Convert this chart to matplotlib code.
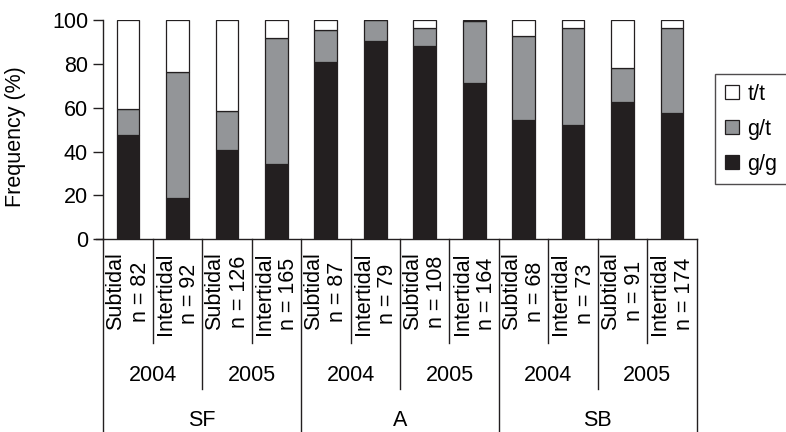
import matplotlib.pyplot as plt
import numpy as np
from matplotlib.patches import Patch

plt.rcParams["font.family"] = ["Liberation Sans", "DejaVu Sans"]
plt.rcParams["font.size"] = 15.5

sites = ["SF", "A", "SB"]
years = ["2004", "2005"]
zones = ["Subtidal", "Intertidal"]
n_samples = [82, 92, 126, 165, 87, 79, 108, 164, 68, 73, 91, 174]

# genotype frequencies (%) per sample, bottom to top
gg = [47.6, 19.0, 40.8, 34.2, 81.0, 90.5, 88.3, 71.1, 54.3, 52.1, 62.7, 57.4]
gt = [11.9, 57.1, 17.8, 57.7, 14.4, 9.5, 8.2, 28.3, 38.4, 44.2, 15.4, 39.1]
tt = [40.5, 23.9, 41.4, 8.1, 4.6, 0.0, 3.5, 0.6, 7.3, 3.7, 21.9, 3.5]

dark = "#231f20"
grey = "#939598"

fig = plt.figure(figsize=(7.86, 4.32), dpi=100)
ax = fig.add_axes([0.1314, 0.446, 0.755, 0.5076])

x = np.arange(len(n_samples)) + 0.5
gg = np.array(gg)
gt = np.array(gt)
tt = np.array(tt)
w = 0.46
ax.bar(x, gg, w, color=dark, edgecolor=dark, linewidth=0.9, label="g/g")
ax.bar(x, gt, w, bottom=gg, color=grey, edgecolor=dark, linewidth=0.9, label="g/t")
ax.bar(x, tt, w, bottom=gg + gt, color="white", edgecolor=dark, linewidth=0.9, label="t/t")

ax.set_xlim(0, len(n_samples))
ax.set_ylim(0, 100)
ax.set_yticks(np.arange(0, 101, 20))
ax.set_xticks([])
ax.tick_params(axis="y", direction="out", length=7, width=1, color=dark, pad=4)
for s in ["top", "right"]:
    ax.spines[s].set_visible(False)
for s in ["left", "bottom"]:
    ax.spines[s].set_color(dark)
    ax.spines[s].set_linewidth(1)
# extend the baseline a little to the left like a tick at zero
ax.plot([-0.15, 0], [0, 0], color=dark, lw=1, clip_on=False,
        transform=ax.get_xaxis_transform())

ax.set_ylabel("Frequency (%)")
ax.yaxis.set_label_coords(-0.130, 0.47)

# grouping table under the bars
tr = ax.get_xaxis_transform()
y_zone = -0.473
y_year = -0.682
y_site = -0.88
line_kw = dict(color=dark, lw=1, clip_on=False, transform=tr)
for k in range(len(n_samples) + 1):
    if k % 4 == 0:
        bottom = y_site
    elif k % 2 == 0:
        bottom = y_year
    else:
        bottom = y_zone
    ax.plot([k, k], [0, bottom], **line_kw)

for k, n in enumerate(n_samples):
    ax.text(x[k], -0.06, f"{zones[k % 2]}\nn = {n}", rotation=90,
            ha="center", va="top", multialignment="center",
            linespacing=1.2, transform=tr)

for k in range(len(sites) * len(years)):
    ax.text(2 * k + 1, -0.619, years[k % 2], ha="center", va="center",
            transform=tr)

for k, site in enumerate(sites):
    ax.text(4 * k + 2, -0.824, site, ha="center", va="center", transform=tr)

handles = [
    Patch(facecolor="white", edgecolor=dark, lw=0.9),
    Patch(facecolor=grey, edgecolor=dark, lw=0.9),
    Patch(facecolor=dark, edgecolor=dark, lw=0.9),
]
leg = fig.legend(handles, ["t/t", "g/t", "g/g"], loc="upper left",
                 bbox_to_anchor=(715 / 786, 1 - 74 / 432),
                 bbox_transform=fig.transFigure, borderaxespad=0,
                 frameon=True, fancybox=False, handlelength=0.65,
                 handleheight=0.65, handletextpad=0.4, labelspacing=0.65,
                 borderpad=0.45, fontsize=15.5)
leg.get_frame().set_edgecolor(dark)
leg.get_frame().set_linewidth(1)

fig.savefig("out.png", dpi=100)
